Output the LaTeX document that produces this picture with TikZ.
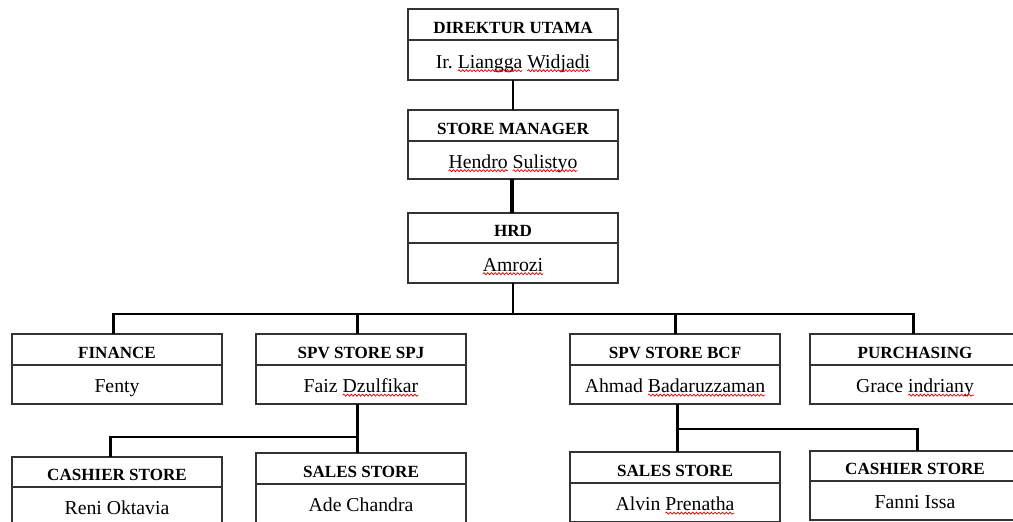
\documentclass[tikz,border=0pt]{standalone}
\usepackage{fontspec}
\setmainfont{Liberation Serif}
\usetikzlibrary{decorations.pathmorphing}
\frenchspacing
\newcommand\ttlfont{\fontsize{12.8pt}{14pt}\selectfont\bfseries}
\newcommand\nmfont{\fontsize{14.8pt}{17pt}\selectfont}
\newcommand\wv[1]{\tikz[baseline=(wvt.base)]{\node[inner sep=0pt,outer sep=0pt,draw=none,fill=none,shape=rectangle,minimum width=0pt,minimum height=0pt,text height=,text depth=,font=\nmfont] (wvt) {#1};\draw[overlay,red!90!black,line width=0.55pt,decorate,decoration={snake,amplitude=0.75pt,segment length=2.8pt}] ([yshift=-2pt]wvt.base west) -- ([yshift=-2pt]wvt.base east);}}
\tikzset{
  boxline/.style={draw=black!80,line width=1pt,fill=white,outer sep=0pt},
  ttl/.style={boxline,minimum width=157.5pt,minimum height=23.25pt,inner sep=0pt,text height=12.9pt,text depth=0.15pt,font=\ttlfont,anchor=north west},
  nm/.style={boxline,minimum width=157.5pt,minimum height=29.25pt,inner sep=0pt,text height=12.6pt,text depth=0.6pt,font=\nmfont,anchor=north},
  vline/.style={line width=2.25pt,black},
  hline/.style={line width=1.5pt,black},
}
\begin{document}
\begin{tikzpicture}[x=0.75pt,y=-0.75pt]
\useasboundingbox (0,0) rectangle (1013,521);
\fill[white] (0,0) rectangle (1013,521);
\clip (0,0) rectangle (1013,521);
% boxes
\node[ttl] (du) at (408,9) {DIREKTUR UTAMA};
\node[nm,minimum height=30pt] (du-n) at (du.south) {Ir. \wv{Liangga} \wv{Widjadi}};
\node[ttl] (sm) at (408,110) {STORE MANAGER};
\node[nm,minimum height=28.5pt] (sm-n) at (sm.south) {\wv{Hendro} \wv{Sulistyo}};
\node[ttl,minimum height=22.5pt] (hrd) at (408,213) {HRD};
\node[nm,minimum height=30pt] (hrd-n) at (hrd.south) {\wv{Amrozi}};
\node[ttl] (fin) at (12,334) {FINANCE};
\node[nm] (fin-n) at (fin.south) {Fenty};
\node[ttl] (spj) at (256,334) {SPV STORE SPJ};
\node[nm] (spj-n) at (spj.south) {Faiz \wv{Dzulfikar}};
\node[ttl] (bcf) at (570,334) {SPV STORE BCF};
\node[nm] (bcf-n) at (bcf.south) {Ahmad \wv{Badaruzzaman}};
\node[ttl] (pur) at (810,334) {PURCHASING};
\node[nm] (pur-n) at (pur.south) {Grace \wv{indriany}};
\node[ttl,minimum height=22.5pt] (cashl) at (12,457) {CASHIER STORE};
\node[nm] (cashl-n) at (cashl.south) {Reni Oktavia};
\node[ttl] (salesl) at (256,453) {SALES STORE};
\node[nm] (salesl-n) at (salesl.south) {Ade Chandra};
\node[ttl] (salesr) at (570,452) {SALES STORE};
\node[nm] (salesr-n) at (salesr.south) {Alvin \wv{Prenatha}};
\node[ttl,minimum height=22.5pt] (cashr) at (810,451) {CASHIER STORE};
\node[nm] (cashr-n) at (cashr.south) {Fanni Issa};
% connectors top
\draw[line width=1.9pt] (du-n.south) -- (sm.north);
\draw[line width=2.8pt] ([xshift=-1pt]sm-n.south) -- ([xshift=-1pt]hrd.north);
\coordinate (bus) at (513,314);
\draw[hline] (hrd-n.south) -- (bus);
\draw[hline] ([xshift=-3pt]fin.north |- bus) -- ([xshift=-1.5pt]pur.north |- bus);
\draw[vline] ([xshift=-3pt,yshift=0.6pt]fin.north |- bus) -- ([xshift=-3pt]fin.north);
\draw[vline] ([xshift=-3pt,yshift=0.6pt]spj.north |- bus) -- ([xshift=-3pt]spj.north);
\draw[vline] ([yshift=0.6pt]bcf.north |- bus) -- (bcf.north);
\draw[vline] ([xshift=-1.5pt,yshift=0.6pt]pur.north |- bus) -- ([xshift=-1.5pt]pur.north);
% SPJ children
\coordinate (sb) at (0,437);
\draw[vline] ([xshift=-3pt]spj-n.south) -- ([xshift=-3pt]salesl.north);
\draw[hline] ([xshift=-3pt]spj-n.south |- sb) -- ([xshift=-4.9pt]cashl.north |- sb);
\draw[vline] ([xshift=-4.9pt,yshift=0.6pt]cashl.north |- sb) -- ([xshift=-4.9pt]cashl.north);
% BCF children
\coordinate (bb) at (0,429);
\draw[vline] ([xshift=1.5pt]bcf-n.south) -- ([xshift=1.5pt]salesr.north);
\draw[hline] ([xshift=1.5pt]bcf-n.south |- bb) -- ([xshift=1.5pt]cashr.north |- bb);
\draw[vline] ([xshift=1.5pt,yshift=0.6pt]cashr.north |- bb) -- ([xshift=1.5pt]cashr.north);
\end{tikzpicture}
\end{document}
